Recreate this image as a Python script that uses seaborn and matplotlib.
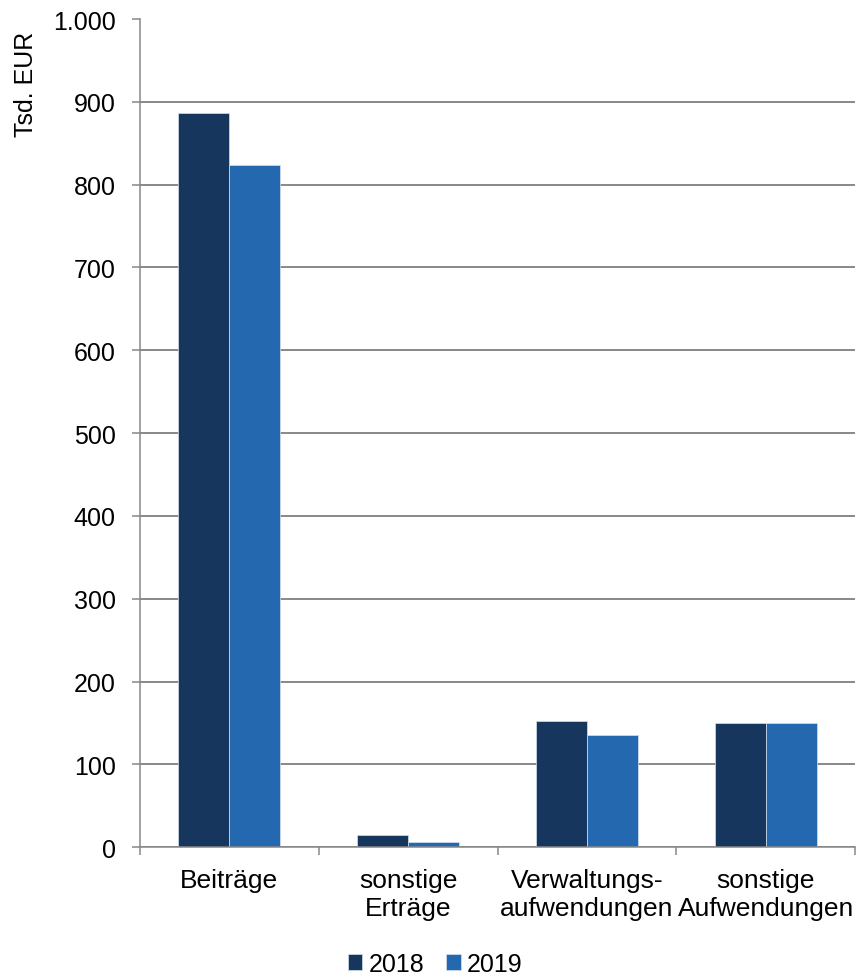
import matplotlib
matplotlib.use("Agg")
import matplotlib.pyplot as plt
import matplotlib.ticker as mticker
import seaborn as sns
import pandas as pd

# Werte in Tsd. EUR
categories = ["Beiträge", "sonstige\nErträge", "Verwaltungs-\naufwendungen", "sonstige\nAufwendungen"]
years = ["2018", "2019"]
values_2018 = [886, 15, 152, 150]
values_2019 = [824, 6, 135, 150]
y_ticks = list(range(0, 1001, 100))

colors = {"2018": "#17365D", "2019": "#2469AF"}
grid_color = "#888888"

df = pd.DataFrame({
    "Kategorie": categories * 2,
    "Jahr": [years[0]] * len(categories) + [years[1]] * len(categories),
    "Wert": values_2018 + values_2019,
})

sns.set_theme(style="white")
plt.rcParams["font.family"] = ["Liberation Sans", "DejaVu Sans"]
plt.rcParams["text.color"] = "black"
plt.rcParams["xtick.labelcolor"] = "black"
plt.rcParams["ytick.labelcolor"] = "black"

fig = plt.figure(figsize=(8.58, 9.78), dpi=100)
ax = fig.add_axes([140 / 858, 1 - 848.3 / 978, (855 - 140) / 858, (848.3 - 20) / 978])

sns.barplot(data=df, x="Kategorie", y="Wert", hue="Jahr", order=categories,
            hue_order=years, palette=colors, width=0.572, gap=0,
            edgecolor="#d6e0ec", linewidth=0.5, saturation=1, ax=ax, legend=True)

ax.set_ylim(0, 1000)
ax.set_xlim(-0.5, len(categories) - 0.5)
ax.set_axisbelow(True)

# y axis: German thousands separator
ax.set_yticks(y_ticks)
ax.yaxis.set_major_formatter(mticker.FuncFormatter(lambda v, _: f"{int(v):,}".replace(",", ".")))
ax.tick_params(axis="y", which="major", direction="out", length=5.5, width=1.1,
               color=grid_color, labelcolor="black", labelsize=18, pad=12, left=True)
ax.yaxis.grid(True, color=grid_color, linewidth=1.4)
for gl, t in zip(ax.yaxis.get_gridlines(), y_ticks):
    if t == y_ticks[-1]:
        gl.set_visible(False)

# x axis: tick marks between categories, labels centred on them
ax.set_xticks([i - 0.5 for i in range(len(categories) + 1)])
ax.set_xticklabels([""] * (len(categories) + 1))
ax.set_xticks(range(len(categories)), minor=True)
ax.set_xticklabels(categories, minor=True, fontsize=19, linespacing=1.2, color="black")
ax.tick_params(axis="x", which="major", direction="out", length=5.8, width=1.1,
               color=grid_color, bottom=True)
ax.tick_params(axis="x", which="minor", length=0, pad=15, labelcolor="black")
ax.set_xlabel("")
ax.set_ylabel("")

for side in ["top", "right"]:
    ax.spines[side].set_visible(False)
for side in ["left", "bottom"]:
    ax.spines[side].set_color(grid_color)
    ax.spines[side].set_linewidth(1.1)

fig.text(26 / 858, 1 - 84 / 978, "Tsd. EUR", rotation=90, ha="center", va="center",
         fontsize=18, color="black")

handles, labels = ax.get_legend_handles_labels()
ax.get_legend().remove()
leg = fig.legend(handles, labels, loc="center", bbox_to_anchor=(435 / 858, 1 - 965 / 978),
                 ncol=2, frameon=False, fontsize=18, handlelength=0.58, handleheight=0.62,
                 handletextpad=0.24, columnspacing=0.88, borderpad=0)
for txt in leg.get_texts():
    txt.set_color("black")

fig.savefig("out.png", dpi=100, facecolor="white")
